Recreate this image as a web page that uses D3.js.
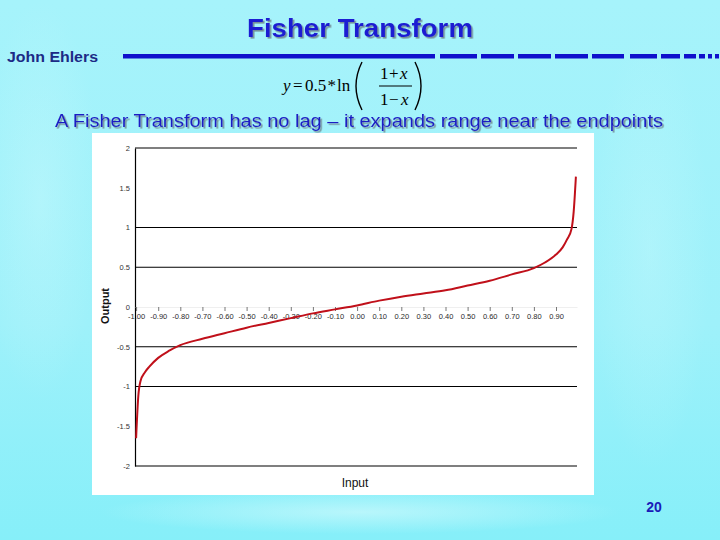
<!DOCTYPE html>
<html>
<head>
<meta charset="utf-8">
<script src="https://cdn.jsdelivr.net/npm/d3@7/dist/d3.min.js"></script>
<style>
  html, body { margin: 0; padding: 0; background: #9ef2fa; }
  svg { display: block; }
</style>
</head>
<body>
<svg id="chart" width="720" height="540"></svg>
<script>
// ---- data ----
const inputs  = [-1.00, -0.99, -0.98, -0.96, -0.94, -0.90, -0.85, -0.80, -0.70, -0.60, -0.50, -0.40, -0.30, -0.20, -0.10, 0.00, 0.10, 0.20, 0.30, 0.40, 0.50, 0.60, 0.70, 0.80, 0.85, 0.90, 0.93, 0.95, 0.97, 0.98, 0.99];
const outputs = [-1.65, -1.12, -0.93, -0.82, -0.75, -0.64, -0.55, -0.48, -0.40, -0.33, -0.26, -0.20, -0.14, -0.08, -0.03, 0.02, 0.08, 0.13, 0.17, 0.21, 0.27, 0.33, 0.41, 0.49, 0.56, 0.66, 0.75, 0.85, 0.98, 1.20, 1.64];
const xTickValues = [-1.00, -0.90, -0.80, -0.70, -0.60, -0.50, -0.40, -0.30, -0.20, -0.10, 0.00, 0.10, 0.20, 0.30, 0.40, 0.50, 0.60, 0.70, 0.80, 0.90];
const xTickLabels = ["-1.00", "-0.90", "-0.80", "-0.70", "-0.60", "-0.50", "-0.40", "-0.30", "-0.20", "-0.10", "0.00", "0.10", "0.20", "0.30", "0.40", "0.50", "0.60", "0.70", "0.80", "0.90"];
const yTickValues = [-2, -1.5, -1, -0.5, 0, 0.5, 1, 1.5, 2];
const yTickLabels = ["-2", "-1.5", "-1", "-0.5", "0", "0.5", "1", "1.5", "2"];
const gridValues  = [2, 1, 0.5, -0.5, -1, -2];

const titleText    = "Fisher Transform";
const authorText   = "John Ehlers";
const subtitleText = "A Fisher Transform has no lag \u2013 it expands range near the endpoints";
const xAxisTitle   = "Input";
const yAxisTitle   = "Output";
const pageNumber   = "20";

const svg = d3.select("#chart");
const defs = svg.append("defs");

// ---- background ----
const bg = defs.append("linearGradient").attr("id", "bg").attr("x1", 0).attr("y1", 0).attr("x2", 0).attr("y2", 1);
bg.append("stop").attr("offset", "0%").attr("stop-color", "#a6f3fb");
bg.append("stop").attr("offset", "60%").attr("stop-color", "#9ef1fa");
bg.append("stop").attr("offset", "100%").attr("stop-color", "#86eff9");
svg.append("rect").attr("width", 720).attr("height", 540).attr("fill", "url(#bg)");

const glow = defs.append("radialGradient").attr("id", "glow");
glow.append("stop").attr("offset", "0%").attr("stop-color", "#c4f8fc").attr("stop-opacity", 0.8);
glow.append("stop").attr("offset", "100%").attr("stop-color", "#c4f8fc").attr("stop-opacity", 0);
svg.append("ellipse").attr("cx", 360).attr("cy", 512).attr("rx", 260).attr("ry", 22).attr("fill", "url(#glow)");
svg.append("ellipse").attr("cx", 40).attr("cy", 200).attr("rx", 60).attr("ry", 200).attr("fill", "url(#glow)").attr("opacity", 0.6);
svg.append("ellipse").attr("cx", 650).attr("cy", 250).attr("rx", 60).attr("ry", 220).attr("fill", "url(#glow)").attr("opacity", 0.5);

// text shadow filter
const sh = defs.append("filter").attr("id", "shadow").attr("x", "-5%").attr("y", "-30%").attr("width", "110%").attr("height", "160%");
sh.append("feDropShadow").attr("dx", 1.6).attr("dy", 1.6).attr("stdDeviation", 0.3)
  .attr("flood-color", "#6f8790").attr("flood-opacity", 0.9);

// ---- header ----
const sans = "Liberation Sans, Arial, sans-serif";
svg.append("text").attr("x", 360).attr("y", 37).attr("text-anchor", "middle")
  .attr("font-family", sans).attr("font-size", 25).attr("font-weight", "bold")
  .attr("fill", "#1a1ad2").attr("filter", "url(#shadow)")
  .attr("textLength", 226).attr("lengthAdjust", "spacingAndGlyphs")
  .text(titleText);

svg.append("text").attr("x", 7).attr("y", 62)
  .attr("font-family", sans).attr("font-size", 14).attr("font-weight", "bold")
  .attr("fill", "#1c2a86")
  .attr("textLength", 91).attr("lengthAdjust", "spacingAndGlyphs")
  .text(authorText);

// dashed rule
const ruleSegs = [[123, 435], [440, 477], [481, 514], [518, 551], [555, 588], [592, 624], [630, 657], [661, 680], [684, 696], [699, 705], [708, 712], [715, 719]];
svg.append("g").selectAll("rect").data(ruleSegs).join("rect")
  .attr("x", d => d[0]).attr("y", 54).attr("width", d => d[1] - d[0]).attr("height", 4.5)
  .attr("fill", "#0f10cc");

// formula  y = 0.5 * ln((1+x)/(1-x))
const fserif = "Liberation Serif, Times New Roman, serif";
const fg = svg.append("g").attr("font-family", fserif).attr("fill", "#000").attr("font-size", 17);
const formulaParts = [
  { t: "y",   x: 283, y: 91, it: true },
  { t: "=",   x: 293, y: 91 },
  { t: "0.5", x: 305, y: 91 },
  { t: "*",   x: 327.5, y: 91 },
  { t: "ln",  x: 337, y: 91 },
  { t: "1",   x: 380, y: 79 },
  { t: "+",   x: 389, y: 79 },
  { t: "x",   x: 400, y: 79, it: true },
  { t: "1",   x: 380, y: 104.5 },
  { t: "\u2212", x: 389, y: 104.5 },
  { t: "x",   x: 401, y: 104.5, it: true }
];
fg.selectAll("text").data(formulaParts).join("text")
  .attr("x", d => d.x).attr("y", d => d.y)
  .attr("font-style", d => d.it ? "italic" : "normal")
  .text(d => d.t);
fg.append("line").attr("x1", 379).attr("x2", 412).attr("y1", 86).attr("y2", 86).attr("stroke", "#000").attr("stroke-width", 1);
fg.append("path").attr("d", "M362,62 Q350,86 362,110").attr("fill", "none").attr("stroke", "#000").attr("stroke-width", 1.4);
fg.append("path").attr("d", "M415,62 Q427,86 415,110").attr("fill", "none").attr("stroke", "#000").attr("stroke-width", 1.4);

svg.append("text").attr("x", 359).attr("y", 127).attr("text-anchor", "middle")
  .attr("font-family", sans).attr("font-size", 18)
  .attr("fill", "#1d1dc4").attr("filter", "url(#shadow)")
  .attr("textLength", 608).attr("lengthAdjust", "spacingAndGlyphs")
  .text(subtitleText);

// ---- chart panel ----
svg.append("rect").attr("x", 92).attr("y", 133).attr("width", 502).attr("height", 362).attr("fill", "#ffffff");

const x = d3.scaleLinear().domain([-1.005, 0.995]).range([135, 577]);
const y = d3.scaleLinear().domain([-2, 2]).range([466, 148]);

// gridlines
svg.append("g").selectAll("line").data(gridValues).join("line")
  .attr("x1", 135).attr("x2", 577)
  .attr("y1", d => y(d)).attr("y2", d => y(d))
  .attr("stroke", "#000").attr("stroke-width", 1.2);

// y axis
const yAxis = svg.append("g").attr("transform", "translate(135,0)")
  .call(d3.axisLeft(y).tickValues(yTickValues).tickSize(0).tickPadding(5)
        .tickFormat((d, i) => yTickLabels[i]));
yAxis.select(".domain").attr("stroke", "#000").attr("stroke-width", 1.2);
yAxis.selectAll("text").attr("font-family", sans).attr("font-size", 7.5).attr("fill", "#333");

// x axis (at zero)
const xAxis = svg.append("g").attr("transform", `translate(0,${y(0)})`)
  .call(d3.axisBottom(x).tickValues(xTickValues).tickSizeInner(4).tickSizeOuter(0).tickPadding(3)
        .tickFormat((d, i) => xTickLabels[i]));
xAxis.select(".domain").attr("stroke", "#e4e4e4").attr("stroke-width", 0.6);
xAxis.selectAll(".tick line").attr("stroke", "#555").attr("stroke-width", 0.8);
xAxis.selectAll("text").attr("font-family", sans).attr("font-size", 7.5).attr("fill", "#2a2a2a");

// curve
const pts = inputs.map((v, i) => [v, outputs[i]]);
svg.append("path").datum(pts)
  .attr("fill", "none").attr("stroke", "#c0101a").attr("stroke-width", 2)
  .attr("stroke-linejoin", "round")
  .attr("d", d3.line().x(d => x(d[0])).y(d => y(d[1])).curve(d3.curveMonotoneX));

// axis titles
svg.append("text").attr("x", 355).attr("y", 487).attr("text-anchor", "middle")
  .attr("font-family", sans).attr("font-size", 12).attr("fill", "#111")
  .text(xAxisTitle);
svg.append("text").attr("transform", "translate(109,306) rotate(-90)").attr("text-anchor", "middle")
  .attr("font-family", sans).attr("font-size", 11).attr("font-weight", "bold").attr("fill", "#111")
  .text(yAxisTitle);

// page number
svg.append("text").attr("x", 654).attr("y", 512).attr("text-anchor", "middle")
  .attr("font-family", sans).attr("font-size", 14).attr("font-weight", "bold")
  .attr("fill", "#1a1ab8").text(pageNumber);
</script>
</body>
</html>
